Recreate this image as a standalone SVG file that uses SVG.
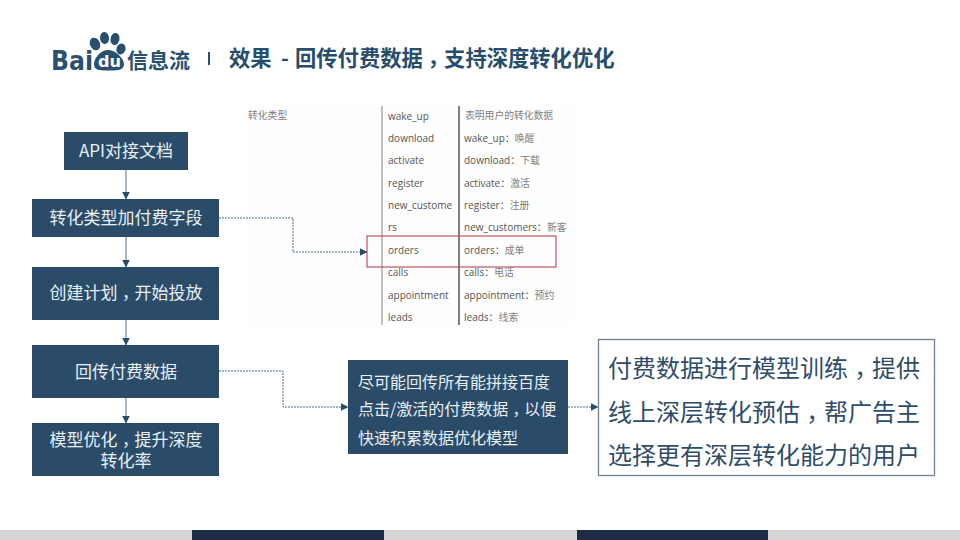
<svg xmlns="http://www.w3.org/2000/svg" width="960" height="540" viewBox="0 0 960 540">
<style>
.cjk{font-family:"Noto Sans CJK SC","Noto Sans",sans-serif}
.c{font-family:"Noto Sans CJK TC",sans-serif}
.box{fill:#2b4c69}
.bt{font-family:"Noto Sans CJK SC","Noto Sans",sans-serif;font-size:17px;fill:#e9eff4;text-anchor:middle}
.st{font-family:"Noto Sans CJK SC",sans-serif;font-size:16px;fill:#e9eff4}
.lt{font-family:"Noto Sans CJK SC",sans-serif;font-size:24px;fill:#2f4d69}
.tb{font-family:"Open Sans","Noto Sans CJK SC",sans-serif;font-size:10px;fill:#555}
.zh{font-family:"Noto Sans CJK SC",serif;font-size:9.800px;fill:#808080}
.flow{stroke:#a9b5c1;stroke-width:2;fill:none}
.dash{stroke:#3d5b76;stroke-width:.9;stroke-dasharray:2 1;fill:none}
</style>
<defs>
<marker id="a" markerUnits="userSpaceOnUse" markerWidth="8" markerHeight="8" refX="7.500" refY="4" orient="auto"><path d="M0 0L8 4L0 8Z" fill="#2b4c69"/></marker>
</defs>
<rect width="960" height="540" fill="#fff"/>
<g id="logo">
<text x="51" y="70" font-family="DejaVu Sans,sans-serif" font-weight="700" font-size="27" fill="#2a5070" textLength="42" lengthAdjust="spacingAndGlyphs">Bai</text>
<ellipse cx="95" cy="44" rx="5" ry="6.500" fill="#2a5070" transform="rotate(-25 95 44)"/>
<ellipse cx="104.500" cy="38" rx="4.500" ry="6" fill="#2a5070" transform="rotate(-8 104.500 38)"/>
<ellipse cx="115" cy="39" rx="4.500" ry="6" fill="#2a5070" transform="rotate(10 115 39)"/>
<ellipse cx="121" cy="49" rx="4.500" ry="5.500" fill="#2a5070" transform="rotate(20 121 49)"/>
<path d="M108 50C115 50 124 58 124 64C124 71 116 70.500 109 70.500C101 70.500 94 71 94 64C94 58 101 50 108 50Z" fill="#2a5070"/>
<text x="98" y="67" font-family="DejaVu Sans,sans-serif" font-weight="700" font-size="15" fill="#fff" textLength="23" lengthAdjust="spacingAndGlyphs">du</text>
<text x="127" y="68" class="cjk" font-weight="700" font-size="21" fill="#2a5070">信息流</text>
</g>
<rect id="title-sep" x="208" y="52" width="2" height="13" fill="#2a5070"/>
<text id="title" y="66" class="cjk" font-weight="700" font-size="21.300" fill="#264d6b"><tspan x="229">效果 </tspan><tspan x="281">- </tspan><tspan x="295">回传付费数据</tspan><tspan class="c" dy="6">，</tspan><tspan dy="-6">支持深度转化优化</tspan></text>
<g id="table">
<rect x="245" y="105" width="330" height="220" fill="#fefefe"/>
<path d="M382 106V325" stroke="#aaa" stroke-width="1.500"/>
<path d="M459 106V325" stroke="#555" stroke-width="1.500"/>
<text x="248" y="119" class="zh">转化类型</text>
<text x="388" y="120" class="tb">wake_up</text>
<text x="388" y="142" class="tb">download</text>
<text x="388" y="164" class="tb">activate</text>
<text x="388" y="187" class="tb">register</text>
<text x="388" y="209" class="tb">new_custome</text>
<text x="388" y="231" class="tb">rs</text>
<text x="388" y="254" class="tb">orders</text>
<text x="388" y="276" class="tb">calls</text>
<text x="388" y="299" class="tb">appointment</text>
<text x="388" y="321" class="tb">leads</text>
<text x="465" y="119" class="zh">表明用户的转化数据</text>
<text x="464" y="142" class="tb">wake_up：<tspan class="zh">唤醒</tspan></text>
<text x="464" y="164" class="tb">download：<tspan class="zh">下载</tspan></text>
<text x="464" y="187" class="tb">activate：<tspan class="zh">激活</tspan></text>
<text x="464" y="209" class="tb">register：<tspan class="zh">注册</tspan></text>
<text x="464" y="231" class="tb">new_customers：<tspan class="zh">新客</tspan></text>
<text x="464" y="254" class="tb">orders：<tspan class="zh">成单</tspan></text>
<text x="464" y="276" class="tb">calls：<tspan class="zh">电话</tspan></text>
<text x="464" y="299" class="tb">appointment：<tspan class="zh">预约</tspan></text>
<text x="464" y="321" class="tb">leads：<tspan class="zh">线索</tspan></text>
<rect x="367" y="236" width="189" height="31" fill="none" stroke="#c4525f" stroke-width="1.200"/>
</g>
<g id="connectors">
<path class="flow" d="M126 170V199" marker-end="url(#a)"/>
<path class="flow" d="M126 237V267" marker-end="url(#a)"/>
<path class="flow" d="M126 320V345" marker-end="url(#a)"/>
<path class="flow" d="M126 398V423" marker-end="url(#a)"/>
<path class="dash" d="M219 218H293V252H367" marker-end="url(#a)"/>
<path class="dash" d="M219 371H283V407H348" marker-end="url(#a)"/>
<path class="dash" d="M568 407H598" marker-end="url(#a)"/>
</g>
<g id="n1"><rect class="box" x="64" y="132" width="124" height="38"/><text class="bt" x="126" y="157">API对接文档</text></g>
<g id="n2"><rect class="box" x="32" y="199" width="187" height="38"/><text class="bt" x="126" y="224">转化类型加付费字段</text></g>
<g id="n3"><rect class="box" x="32" y="267" width="187" height="53"/><text class="bt" x="126" y="299">创建计划<tspan class="c" dy="5">，</tspan><tspan dy="-5">开始投放</tspan></text></g>
<g id="n4"><rect class="box" x="32" y="345" width="187" height="53"/><text class="bt" x="126" y="378">回传付费数据</text></g>
<g id="n5"><rect class="box" x="32" y="423" width="187" height="53"/><text class="bt" x="126" y="446">模型优化<tspan class="c" dy="5">，</tspan><tspan dy="-5">提升深度</tspan><tspan x="126" dy="21">转化率</tspan></text></g>
<g id="n6"><rect class="box" x="348" y="360" width="220" height="94"/><text class="st" x="358" y="388">尽可能回传所有能拼接百度</text><text class="st" x="358" y="415">点击/激活的付费数据<tspan class="c" dy="5">，</tspan><tspan dy="-5">以便</tspan></text><text class="st" x="358" y="444">快速积累数据优化模型</text></g>
<g id="n7"><rect x="598.500" y="339.500" width="336" height="136" fill="#fff" stroke="#6d8297" stroke-width="1.300"/><text class="lt" x="608" y="377">付费数据进行模型训练<tspan class="c" dy="7">，</tspan><tspan dy="-7">提供</tspan></text><text class="lt" x="608" y="421">线上深层转化预估<tspan class="c" dy="7">，</tspan><tspan dy="-7">帮广告主</tspan></text><text class="lt" x="608" y="464">选择更有深层转化能力的用户</text></g>
<g id="footer">
<rect y="530" width="960" height="10" fill="#d4d4d4"/>
<rect x="192" y="530" width="192" height="10" fill="#1f2a44"/>
<rect x="577" y="530" width="191" height="10" fill="#1f2a44"/>
</g>
</svg>
